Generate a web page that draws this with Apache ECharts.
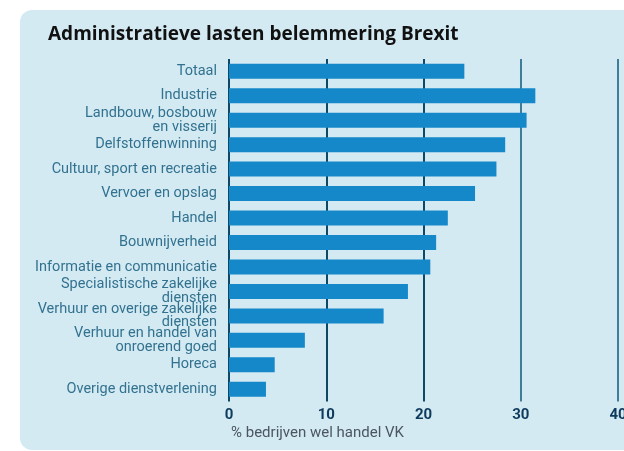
<!DOCTYPE html>
<html><head><meta charset="utf-8">
<script src="https://cdn.jsdelivr.net/npm/echarts@6/dist/echarts.min.js"></script>
<style>html,body{margin:0;padding:0;background:#fff}#c{width:624px;height:451px}</style>
</head><body><div id="c"></div>
<script>
const categories = [
  'Totaal','Industrie','Landbouw, bosbouw\nen visserij','Delfstoffenwinning',
  'Cultuur, sport en recreatie','Vervoer en opslag','Handel','Bouwnijverheid',
  'Informatie en communicatie','Specialistische zakelijke\ndiensten',
  'Verhuur en overige zakelijke\ndiensten','Verhuur en handel van\nonroerend goed',
  'Horeca','Overige dienstverlening'
];
const values = [24.2, 31.5, 30.6, 28.4, 27.5, 25.3, 22.5, 21.3, 20.7, 18.4, 15.9, 7.8, 4.7, 3.8];
const xTicks = [0, 10, 20, 30, 40];
const titleText = 'Administratieve lasten belemmering Brexit';
const axisTitle = '% bedrijven wel handel VK';

const chart = echarts.init(document.getElementById('c'), null, {renderer:'canvas'});
chart.setOption({
  backgroundColor: '#ffffff',
  animation: false,
  graphic: [
    {type:'rect', z:-10, shape:{x:20, y:10, width:640, height:440, r:12}, style:{fill:'#d4eaf3'}},
    {type:'text', left:231, top:426, style:{text:axisTitle, fill:'#4b5663', font:'15px Roboto'}}
  ],
  title: {
    text: titleText, left: 43, top: 20,
    textStyle: {fontFamily:'Open Sans', fontWeight:'bold', fontSize:19, color:'#111111'}
  },
  grid: {left:229, right:6, top:59, bottom:49.5, containLabel:false, outerBoundsMode:'none'},
  xAxis: {
    type:'value', min:xTicks[0], max:xTicks[xTicks.length-1], interval:10,
    axisLine:{show:false}, axisTick:{show:false},
    axisLabel:{color:'#0e3a5c', fontWeight:'bold', fontSize:15, fontFamily:'Roboto', margin:6},
    splitLine:{show:true, lineStyle:{width:2, color:['#0d4867','#0d4867','#0d4867','#3f7d99','#3f7d99']}}
  },
  yAxis: {
    type:'category', data:categories, inverse:true,
    axisLine:{show:false}, axisTick:{show:false},
    axisLabel:{color:'#32728f', fontSize:14.5, lineHeight:13.5, fontFamily:'Roboto', margin:12, align:'right', padding:[4,0,0,0]}
  },
  series: [{
    type:'bar', data:values, barWidth:15,
    itemStyle:{color:'#1588c9'}
  }]
});
</script></body></html>
